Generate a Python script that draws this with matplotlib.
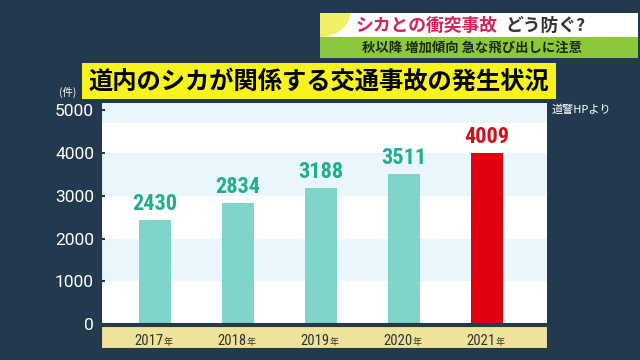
import matplotlib
matplotlib.use("Agg")
import matplotlib.pyplot as plt
from matplotlib import font_manager
from matplotlib.patches import Rectangle, Ellipse

years = ["2017", "2018", "2019", "2020", "2021"]
counts = [2430, 2834, 3188, 3511, 4009]
yticks = [0, 1000, 2000, 3000, 4000, 5000]
title = "道内のシカが関係する交通事故の発生状況"
banner_red = "シカとの衝突事故"
banner_dark = "どう防ぐ?"
banner_sub = "秋以降 増加傾向 急な飛び出しに注意"
unit_label = "(件)"
source_label = "道警HPより"

names = {f.name for f in font_manager.fontManager.ttflist}
narrow = next((n for n in ["Liberation Sans Narrow", "Roboto Condensed", "Roboto"] if n in names), "DejaVu Sans")
CJK = ["Noto Sans CJK JP", "DejaVu Sans"]

BG = "#233a4e"
fig = plt.figure(figsize=(6.4, 3.6), dpi=100, facecolor=BG)

# overlay in pixel coordinates
ov = fig.add_axes([0, 0, 1, 1], zorder=0)
ov.set_xlim(0, 640)
ov.set_ylim(360, 0)
ov.axis("off")

# banner
white_box = Rectangle((320, 13), 318, 24, facecolor="white", edgecolor="none")
ov.add_patch(white_box)
ov.add_patch(Rectangle((320, 37), 318, 21, facecolor="#8cc83c", edgecolor="none"))
ell = Ellipse((320, 13), 60, 48, facecolor="#eef06a", edgecolor="none")
ov.add_patch(ell)
ell.set_clip_path(white_box)
ov.text(356, 26, banner_red, color="#d2245a", fontsize=12.8, fontweight="bold",
        family=CJK, ha="left", va="center")
ov.text(505, 26, banner_dark, color="#333333", fontsize=12.8, fontweight="bold",
        family=CJK, ha="left", va="center")
ov.text(362, 47.5, banner_sub, color="#1f2a14", fontsize=9.6, fontweight="bold",
        family=CJK, ha="left", va="center")

# title box
ov.add_patch(Rectangle((82, 63), 474, 36, facecolor="#f6f31e", edgecolor="none"))
ov.text(88, 81.5, title, color="black", fontsize=17.5, fontweight="bold",
        family=CJK, ha="left", va="center")

ov.text(68, 92, unit_label, color="white", fontsize=7.5, family=CJK, ha="center", va="center")
ov.text(552, 110, source_label, color="white", fontsize=8, family=CJK, ha="left", va="center")

# year band
ov.add_patch(Rectangle((101, 326), 446, 22, facecolor="#ede39a", edgecolor="#2a3a3a", lw=0.8))

# main axes
ax = fig.add_axes([101 / 640, 36 / 360, 446 / 640, 221 / 360], zorder=1)
ax.set_facecolor("white")
ymax = 5175
ax.set_ylim(0, ymax)
ax.set_xlim(-0.65, 4.72)
for lo, hi in [(1000, 2000), (3000, 4000), (4700, ymax)]:
    ax.axhspan(lo, hi, color="#e9f6fb", lw=0, zorder=0)

x = list(range(len(years)))
colors = ["#80d5ca"] * 4 + ["#e0000f"]
ax.bar(x, counts, width=0.39, color=colors, zorder=2)
label_colors = ["#1fae8e"] * 4 + ["#d0101a"]
for xi, v, c in zip(x, counts, label_colors):
    ax.annotate(str(v), (xi, v), xytext=(0, 3.5), textcoords="offset points",
                ha="center", va="bottom", color=c, fontsize=16, fontweight="bold",
                family=narrow)

for xi, yr in zip(x, years):
    ax.annotate(yr, (xi, 0), xycoords=("data", "axes fraction"), xytext=(6, -12.5),
                textcoords="offset points", ha="right", va="center",
                color="#333333", fontsize=10.5, family=narrow)
    ax.annotate("年", (xi, 0), xycoords=("data", "axes fraction"), xytext=(6.3, -13.2),
                textcoords="offset points", ha="left", va="center",
                color="#333333", fontsize=6.5, family=CJK)

ax.set_yticks(yticks)
ax.set_yticklabels([str(t) for t in yticks])
ax.set_xticks([])
ax.tick_params(axis="y", direction="in", length=3, width=1.5, color="#233a4e",
               labelcolor="white", labelsize=12.5, pad=5)
for lab in ax.get_yticklabels():
    lab.set_family("Roboto")
for s in ["top", "right"]:
    ax.spines[s].set_visible(False)
ax.spines["left"].set_color("#233a4e")
ax.spines["left"].set_linewidth(1.5)
ax.spines["bottom"].set_color("#233a4e")
ax.spines["bottom"].set_linewidth(1.5)

fig.savefig("out.png", dpi=100, facecolor=BG)
